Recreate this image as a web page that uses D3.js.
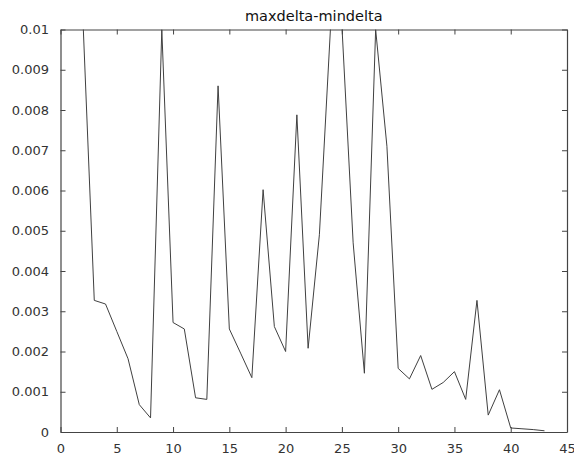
<!DOCTYPE html>
<html>
  <head>
    <meta charset="utf-8" />
    <title>maxdelta-mindelta</title>
    <script src="https://d3js.org/d3.v7.min.js"></script>
    <style>
      body { margin: 0; background: #fff; }
      text { font-family: "DejaVu Sans", sans-serif; }
    </style>
  </head>
  <body>
    <svg width="574" height="457"></svg>

    <script>
      // data (index vs value)
      const xs = [2, 3, 4, 5, 6, 7, 8, 9, 10, 11, 12, 13, 14, 15, 16, 17, 18, 19, 20, 21, 22,
                  23, 24, 25, 26, 27, 28, 29, 30, 31, 32, 33, 34, 35, 36, 37, 38, 39, 40, 41, 42, 43];
      const ys = [0.0102, 0.00327, 0.00318, 0.0025, 0.00182, 0.00068, 0.00035, 0.01, 0.00272,
                  0.00256, 0.00085, 0.00081, 0.0086, 0.00256, 0.00196, 0.00135, 0.00602, 0.00262,
                  0.002, 0.00788, 0.00208, 0.0049, 0.0101, 0.0101, 0.0047, 0.00146, 0.01, 0.0071,
                  0.00158, 0.00132, 0.0019, 0.00106, 0.00123, 0.0015, 0.00081, 0.00327, 0.00042,
                  0.00105, 0.0001, 0.00008, 0.00006, 0.00003];

      const xTicks = [0, 5, 10, 15, 20, 25, 30, 35, 40, 45];
      const yTicks = [0, 0.001, 0.002, 0.003, 0.004, 0.005, 0.006, 0.007, 0.008, 0.009, 0.01];
      const yTickLabels = ["0", "0.001", "0.002", "0.003", "0.004", "0.005", "0.006",
                           "0.007", "0.008", "0.009", "0.01"];
      const title = "maxdelta-mindelta";

      const svg = d3.select("svg");
      const margin = { top: 29.5, right: 7, bottom: 25, left: 60.5 };
      const width = +svg.attr("width");
      const height = +svg.attr("height");

      const x = d3.scaleLinear().domain([0, 45]).range([margin.left, width - margin.right]);
      const y = d3.scaleLinear().domain([0, 0.01]).range([height - margin.bottom, margin.top]);

      const axisColor = "#444";
      const labelColor = "#333";

      // clip the line to the plot box
      svg.append("clipPath")
        .attr("id", "plotclip")
        .append("rect")
        .attr("x", x(0))
        .attr("y", y(0.01))
        .attr("width", x(45) - x(0))
        .attr("height", y(0) - y(0.01));

      const line = d3.line()
        .x((d, i) => x(xs[i]))
        .y((d) => y(d));

      svg.append("path")
        .datum(ys)
        .attr("clip-path", "url(#plotclip)")
        .attr("fill", "none")
        .attr("stroke", "#404040")
        .attr("stroke-width", 1)
        .attr("stroke-linejoin", "miter")
        .attr("d", line);

      // axes, ticks pointing inward on all four sides
      const styleAxis = (g) => {
        g.selectAll(".domain").attr("stroke", axisColor).attr("stroke-width", 1.2);
        g.selectAll(".tick line").attr("stroke", axisColor);
        g.selectAll(".tick text")
          .attr("fill", labelColor)
          .style("font-family", '"DejaVu Sans", sans-serif')
          .style("font-size", "13px");
      };

      svg.append("g")
        .attr("transform", `translate(0,${y(0)})`)
        .call(d3.axisBottom(x).tickValues(xTicks).tickSize(-5).tickSizeOuter(0).tickPadding(12))
        .call(styleAxis);

      svg.append("g")
        .attr("transform", `translate(${x(0)},0)`)
        .call(d3.axisLeft(y).tickValues(yTicks).tickSize(-5).tickSizeOuter(0).tickPadding(11.5)
          .tickFormat((d, i) => yTickLabels[i]))
        .call(styleAxis);

      svg.append("g")
        .attr("transform", `translate(0,${y(0.01)})`)
        .call(d3.axisTop(x).tickValues(xTicks).tickSize(-5).tickSizeOuter(0).tickFormat(""))
        .call(styleAxis);

      svg.append("g")
        .attr("transform", `translate(${x(45)},0)`)
        .call(d3.axisRight(y).tickValues(yTicks).tickSize(-5).tickSizeOuter(0).tickFormat(""))
        .call(styleAxis);

      svg.append("text")
        .attr("x", (x(0) + x(45)) / 2)
        .attr("y", 21)
        .attr("text-anchor", "middle")
        .attr("fill", "#111")
        .style("font-size", "14.5px")
        .text(title);
    </script>
  </body>
</html>
